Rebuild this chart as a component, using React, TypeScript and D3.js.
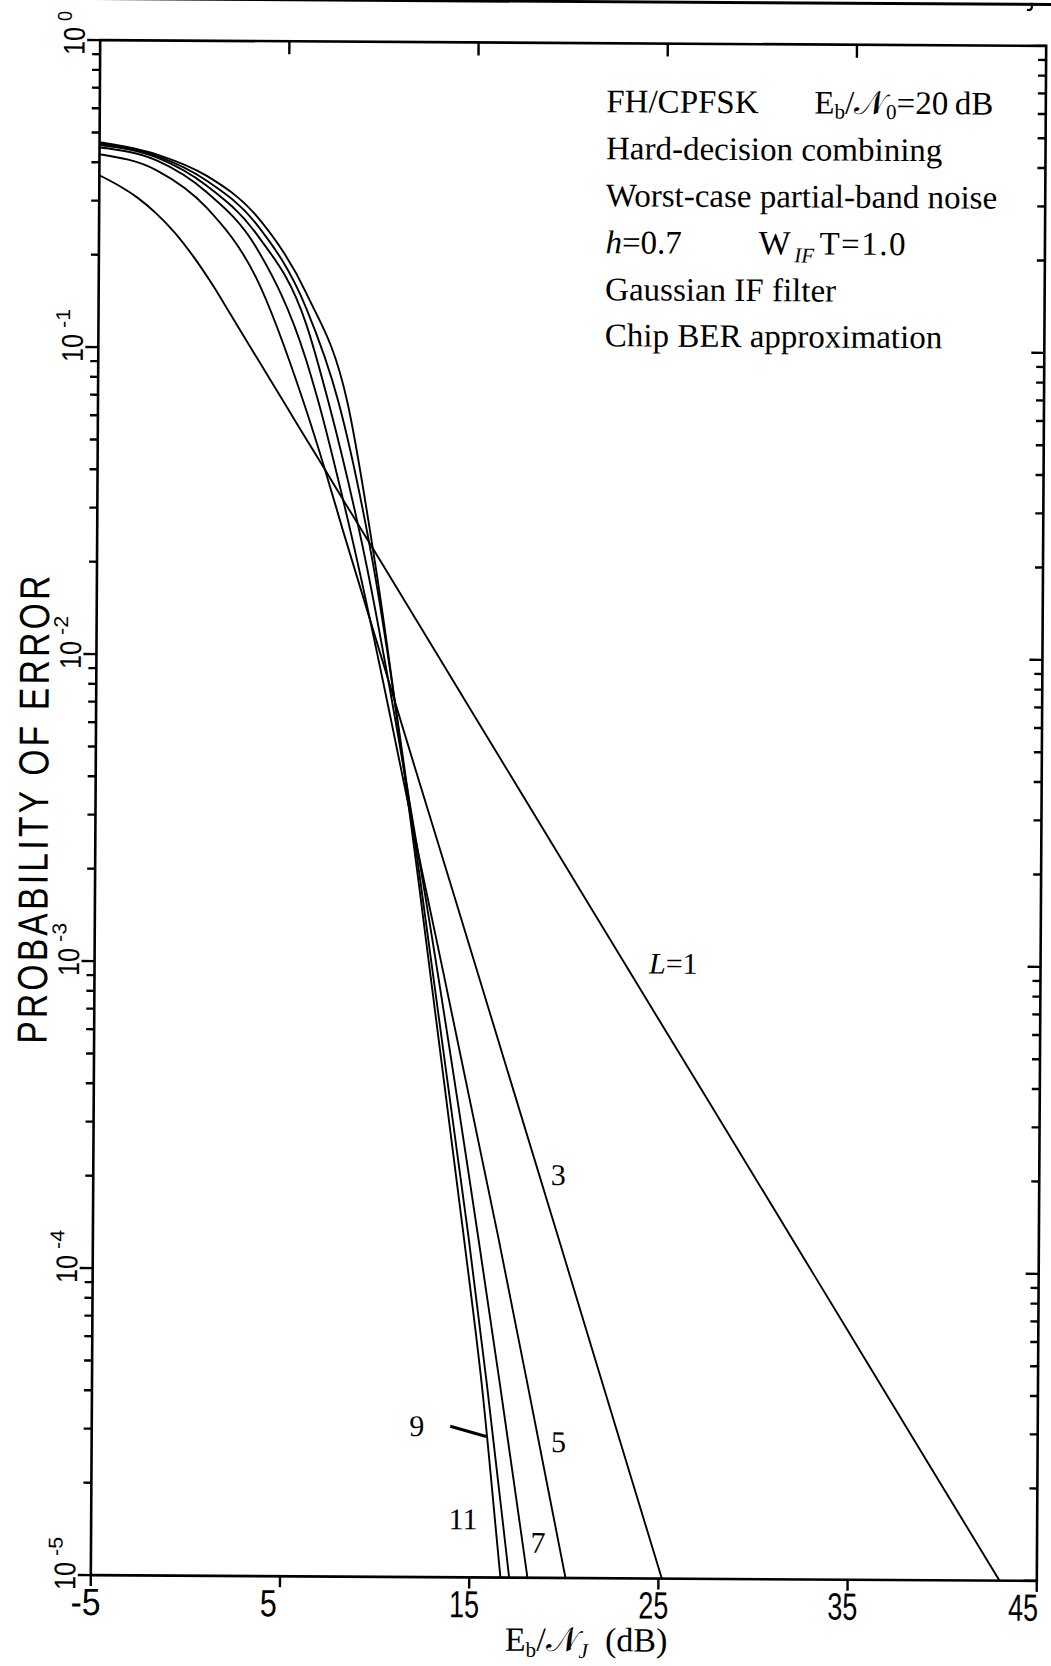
import React from "react";
import * as d3 from "d3";

// Eb/NJ (dB) and bit error probability for each diversity order L
const snrL1 = [-5, -4, -3, -2, -1, 0, 1, 2, 3, 4, 5, 6, 7, 8, 10, 15, 20, 25, 30, 35, 40, 43, 44];
const perL1 = [
  0.363, 0.337, 0.308, 0.274, 0.237, 0.198, 0.161, 0.128, 0.1016, 0.0807,
  0.0641, 0.0509, 0.0405, 0.0321, 0.0203, 6.4e-3, 2.02e-3, 6.38e-4, 2.02e-4,
  6.37e-5, 2.01e-5, 1.007e-5, 8.0e-6,
];

const snrL3 = [-5, -1.95, 0.68, 3.33, 5.86, 7.02, 8.01, 13.76, 19.73, 25.18, 26];
const perL3 = [0.425, 0.377, 0.286, 0.169, 0.067, 0.0403, 0.0253, 1.84e-3, 1.21e-4, 1.0e-5, 6.9e-6];

const snrL5 = [-5, -1.95, 0.68, 3.33, 5.98, 6.65, 8.2, 12.4, 16.42, 17.97, 20.09, 21];
const perL5 = [0.447, 0.406, 0.321, 0.212, 0.092, 0.067, 0.0284, 1.84e-3, 1.29e-4, 4.42e-5, 1.0e-5, 5.3e-6];

const snrL7 = [-5, -1.95, 0.68, 3.33, 5.98, 7.18, 8.98, 12.33, 15.36, 16.55, 18.08, 19];
const perL7 = [0.455, 0.415, 0.337, 0.235, 0.12, 0.067, 0.0235, 1.84e-3, 1.29e-4, 4.31e-5, 1.0e-5, 4.2e-6];

const snrL9 = [-5, -1.95, 0.68, 3.33, 5.98, 7.71, 9.54, 12.2, 14.85, 15.86, 17.11, 18];
const perL9 = [0.46, 0.42, 0.35, 0.253, 0.135, 0.067, 0.0207, 1.84e-3, 1.29e-4, 4.31e-5, 1.0e-5, 3.5e-6];

const snrL11 = [-5, -1.95, 0.68, 3.33, 5.98, 8.18, 9.7, 12.1, 14.6, 15.59, 16.65, 17.2];
const perL11 = [0.465, 0.425, 0.363, 0.269, 0.151, 0.067, 0.02, 1.84e-3, 1.29e-4, 4.31e-5, 1.0e-5, 4.7e-6];

// Axis ticks and labels
const xTickValues = [-5, 5, 15, 25, 35, 45];
const xTopTicks = [5, 15, 25, 35];
const yDecadeExponents = [0, -1, -2, -3, -4, -5];

const noteLinesPlain = ["Hard-decision combining", "Worst-case partial-band noise"];
const noteLinesTail = ["Gaussian IF filter", "Chip BER approximation"];

const SANS = "'Liberation Sans', Arial, sans-serif";
const SERIF = "'Liberation Serif', 'Times New Roman', serif";

export default function App() {
  const W = 1051;
  const H = 1666;
  const left = 95.5;
  const right = 1041.5;
  const top = 43;
  const bottom = 1578;

  const x = d3.scaleLinear().domain([-5, 45]).range([left, right]);
  const y = d3.scaleLog().domain([1e-5, 1]).range([bottom, top]);

  type Pt = [number, number];
  const line = d3
    .line<Pt>()
    .x((d) => x(d[0]))
    .y((d) => y(d[1]))
    .curve(d3.curveMonotoneX);

  const pair = (xs: number[], ps: number[]): Pt[] => xs.map((v, i) => [v, ps[i]] as Pt);

  const series: Pt[][] = [
    pair(snrL1, perL1),
    pair(snrL3, perL3),
    pair(snrL5, perL5),
    pair(snrL7, perL7),
    pair(snrL9, perL9),
    pair(snrL11, perL11),
  ];

  const yTicks = y.ticks();
  const isMajor = (v: number) =>
    Math.abs(Math.log10(v) - Math.round(Math.log10(v))) < 1e-6;

  const tickStroke = 2.4;

  return (
    <svg
      width={W}
      height={H}
      style={{ position: "absolute", left: 0, top: 0, background: "#fff" }}
    >
      <defs>
        <clipPath id="plot-area">
          <rect x={left} y={top} width={right - left} height={bottom - top} />
        </clipPath>
      </defs>
      <rect width={W} height={H} fill="#fff" />

      <g transform="rotate(0.35 568 810)">
        {/* page rule above the figure */}
        <line x1={90} y1={1.5} x2={W} y2={1.5} stroke="#000" strokeWidth={3} />
        <path d="M1027,0 L1027,4 Q1027,8 1022,7" fill="none" stroke="#000" strokeWidth={2.2} />

        {/* curves */}
        <g clipPath="url(#plot-area)" fill="none" stroke="#000" strokeWidth={1.9}>
          {series.map((s, i) => (
            <path key={i} d={line(s) || ""} strokeLinejoin="round" />
          ))}
        </g>

        {/* frame */}
        <rect
          x={left}
          y={top}
          width={right - left}
          height={bottom - top}
          fill="none"
          stroke="#000"
          strokeWidth={2.6}
        />

        {/* left / right axis ticks */}
        {yTicks.map((v, i) => {
          const len = isMajor(v) ? 13 : 8;
          const yy = y(v);
          return (
            <g key={i} stroke="#000" strokeWidth={tickStroke}>
              <line x1={left - len} y1={yy} x2={left} y2={yy} />
              <line x1={right - len} y1={yy} x2={right} y2={yy} />
            </g>
          );
        })}

        {/* bottom / top axis ticks */}
        {xTickValues.map((v) => (
          <line
            key={"b" + v}
            x1={x(v)}
            y1={bottom}
            x2={x(v)}
            y2={bottom + 11}
            stroke="#000"
            strokeWidth={tickStroke}
          />
        ))}
        {xTopTicks.map((v) => (
          <line
            key={"t" + v}
            x1={x(v)}
            y1={top}
            x2={x(v)}
            y2={top + 13}
            stroke="#000"
            strokeWidth={tickStroke}
          />
        ))}

        {/* y tick labels: 10^k written sideways */}
        {yDecadeExponents.map((k) => {
          const yy = y(Math.pow(10, k));
          const expText = k === 0 ? "0" : "-" + Math.abs(k);
          return (
            <g key={"yl" + k} fontFamily={SANS} fill="#000">
              <text
                transform={`translate(80,${yy + 15}) rotate(-90)`}
                fontSize={30}
                textLength={28}
                lengthAdjust="spacingAndGlyphs"
              >
                10
              </text>
              <text
                transform={`translate(67,${yy - 19}) rotate(-90)`}
                fontSize={20}
                textLength={expText.length === 1 ? 10 : 19}
                lengthAdjust="spacingAndGlyphs"
              >
                {expText}
              </text>
            </g>
          );
        })}

        {/* x tick labels, left-aligned just before each tick, kept inside the page */}
        {xTickValues.map((v) => {
          const label = String(v);
          const len = label.length === 1 ? 17 : 30;
          return (
            <text
              key={"xl" + v}
              x={Math.min(x(v) - 20, W - 8 - len)}
              y={1618}
              fontFamily={SANS}
              fontSize={38}
              textLength={len}
              lengthAdjust="spacingAndGlyphs"
            >
              {label}
            </text>
          );
        })}

        {/* axis titles */}
        <text
          transform="translate(48,813) rotate(-90) scale(0.8,1)"
          fontFamily={SANS}
          fontSize={42}
          textAnchor="middle"
          textLength={585}
          lengthAdjust="spacing"
        >
          PROBABILITY OF ERROR
        </text>

        <text x={510} y={1651} fontFamily={SERIF} fontSize={34}>
          E
          <tspan fontSize={21} dy={6}>
            b
          </tspan>
          <tspan dy={-6}>/𝒩</tspan>
          <tspan fontSize={21} dy={7} fontStyle="italic">
            J
          </tspan>
          <tspan dy={-7}>{"\u2002(dB)"}</tspan>
        </text>

        {/* annotation block */}
        <g fontFamily={SERIF} fontSize={33} fill="#000">
          <text x={602} y={112}>
            FH/CPFSK
          </text>
          <text x={810} y={112}>
            E
            <tspan fontSize={21} dy={5}>
              b
            </tspan>
            <tspan dy={-5}>/𝒩</tspan>
            <tspan fontSize={21} dy={5}>
              0
            </tspan>
            <tspan dy={-5}>{"=20\u2009dB"}</tspan>
          </text>
          {noteLinesPlain.map((t, i) => (
            <text key={t} x={602} y={159 + i * 47}>
              {t}
            </text>
          ))}
          <text x={602} y={253}>
            <tspan fontStyle="italic">h</tspan>=0.7
          </text>
          <text x={755} y={253}>
            <tspan fontSize={34}>W</tspan>
            <tspan x={791} fontSize={21} dy={8} fontStyle="italic">
              IF
            </tspan>
            <tspan x={816} dy={-8} letterSpacing={1.5}>
              T=1.0
            </tspan>
          </text>
          {noteLinesTail.map((t, i) => (
            <text key={t} x={602} y={300 + i * 46}>
              {t}
            </text>
          ))}
        </g>

        {/* curve labels */}
        <g fontFamily={SERIF} fontSize={30} fill="#000">
          <text x={650} y={973}>
            <tspan fontStyle="italic">L</tspan>=1
          </text>
          <text x={553} y={1185}>3</text>
          <text x={555} y={1452}>5</text>
          <text x={535} y={1553}>7</text>
          <text x={413} y={1437}>9</text>
          <text x={453} y={1530}>11</text>
        </g>
        <line x1={454} y1={1427} x2={490} y2={1437} stroke="#000" strokeWidth={3} />
      </g>
    </svg>
  );
}
